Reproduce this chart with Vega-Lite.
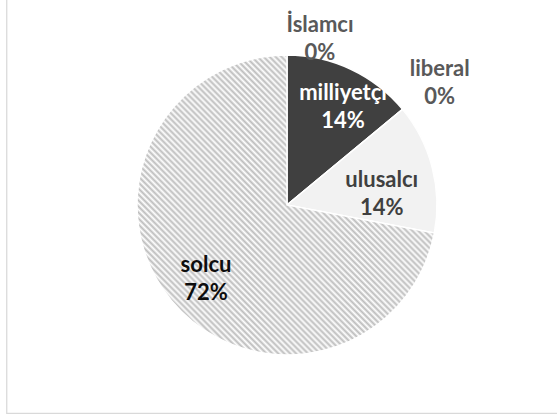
{
  "$schema": "https://vega.github.io/schema/vega-lite/v6.json",
  "width": 561,
  "height": 416,
  "autosize": {"type": "none"},
  "padding": {"left": 6.5, "top": -3, "right": -10.5, "bottom": 3},
  "background": "white",
  "config": {
    "view": {"stroke": "#d9d9d9", "strokeWidth": 1.25},
    "text": {"font": "Lato", "fontWeight": "bold", "fontSize": 22}
  },
  "data": {
    "values": [
      {"party": "İslamcı", "value": 0},
      {"party": "milliyetçi", "value": 0.14},
      {"party": "liberal", "value": 0},
      {"party": "ulusalcı", "value": 0.14},
      {"party": "solcu", "value": 0.72}
    ]
  },
  "transform": [{"stack": "value", "groupby": [], "as": ["v0", "v1"]}],
  "layer": [
    {
      "mark": {"type": "point", "opacity": 0},
      "encoding": {
        "x": {"field": "value", "type": "quantitative", "axis": null},
        "y": {"field": "value", "type": "quantitative", "axis": null}
      }
    },
    {
      "mark": {"type": "arc", "radius": 150, "stroke": "#ffffff", "strokeWidth": 1.5},
      "encoding": {
        "theta": {"field": "v0", "type": "quantitative", "scale": {"domain": [0, 1]}},
        "theta2": {"field": "v1"},
        "fill": {
          "condition": [
            {"test": "datum.party === 'solcu'", "value": {"gradient": "linear", "x1": 0, "y1": 1, "x2": 1, "y2": 0, "stops": [
              {"offset":0,"color":"#bdbdbd"},{"offset":0.005,"color":"#fff"},{"offset":0.01,"color":"#bdbdbd"},{"offset":0.015,"color":"#fff"},
              {"offset":0.02,"color":"#bdbdbd"},{"offset":0.025,"color":"#fff"},{"offset":0.03,"color":"#bdbdbd"},{"offset":0.035,"color":"#fff"},
              {"offset":0.04,"color":"#bdbdbd"},{"offset":0.045,"color":"#fff"},{"offset":0.05,"color":"#bdbdbd"},{"offset":0.055,"color":"#fff"},
              {"offset":0.06,"color":"#bdbdbd"},{"offset":0.065,"color":"#fff"},{"offset":0.07,"color":"#bdbdbd"},{"offset":0.075,"color":"#fff"},
              {"offset":0.08,"color":"#bdbdbd"},{"offset":0.085,"color":"#fff"},{"offset":0.09,"color":"#bdbdbd"},{"offset":0.095,"color":"#fff"},
              {"offset":0.1,"color":"#bdbdbd"},{"offset":0.105,"color":"#fff"},{"offset":0.11,"color":"#bdbdbd"},{"offset":0.115,"color":"#fff"},
              {"offset":0.12,"color":"#bdbdbd"},{"offset":0.125,"color":"#fff"},{"offset":0.13,"color":"#bdbdbd"},{"offset":0.135,"color":"#fff"},
              {"offset":0.14,"color":"#bdbdbd"},{"offset":0.145,"color":"#fff"},{"offset":0.15,"color":"#bdbdbd"},{"offset":0.155,"color":"#fff"},
              {"offset":0.16,"color":"#bdbdbd"},{"offset":0.165,"color":"#fff"},{"offset":0.17,"color":"#bdbdbd"},{"offset":0.175,"color":"#fff"},
              {"offset":0.18,"color":"#bdbdbd"},{"offset":0.185,"color":"#fff"},{"offset":0.19,"color":"#bdbdbd"},{"offset":0.195,"color":"#fff"},
              {"offset":0.2,"color":"#bdbdbd"},{"offset":0.205,"color":"#fff"},{"offset":0.21,"color":"#bdbdbd"},{"offset":0.215,"color":"#fff"},
              {"offset":0.22,"color":"#bdbdbd"},{"offset":0.225,"color":"#fff"},{"offset":0.23,"color":"#bdbdbd"},{"offset":0.235,"color":"#fff"},
              {"offset":0.24,"color":"#bdbdbd"},{"offset":0.245,"color":"#fff"},{"offset":0.25,"color":"#bdbdbd"},{"offset":0.255,"color":"#fff"},
              {"offset":0.26,"color":"#bdbdbd"},{"offset":0.265,"color":"#fff"},{"offset":0.27,"color":"#bdbdbd"},{"offset":0.275,"color":"#fff"},
              {"offset":0.28,"color":"#bdbdbd"},{"offset":0.285,"color":"#fff"},{"offset":0.29,"color":"#bdbdbd"},{"offset":0.295,"color":"#fff"},
              {"offset":0.3,"color":"#bdbdbd"},{"offset":0.305,"color":"#fff"},{"offset":0.31,"color":"#bdbdbd"},{"offset":0.315,"color":"#fff"},
              {"offset":0.32,"color":"#bdbdbd"},{"offset":0.325,"color":"#fff"},{"offset":0.33,"color":"#bdbdbd"},{"offset":0.335,"color":"#fff"},
              {"offset":0.34,"color":"#bdbdbd"},{"offset":0.345,"color":"#fff"},{"offset":0.35,"color":"#bdbdbd"},{"offset":0.355,"color":"#fff"},
              {"offset":0.36,"color":"#bdbdbd"},{"offset":0.365,"color":"#fff"},{"offset":0.37,"color":"#bdbdbd"},{"offset":0.375,"color":"#fff"},
              {"offset":0.38,"color":"#bdbdbd"},{"offset":0.385,"color":"#fff"},{"offset":0.39,"color":"#bdbdbd"},{"offset":0.395,"color":"#fff"},
              {"offset":0.4,"color":"#bdbdbd"},{"offset":0.405,"color":"#fff"},{"offset":0.41,"color":"#bdbdbd"},{"offset":0.415,"color":"#fff"},
              {"offset":0.42,"color":"#bdbdbd"},{"offset":0.425,"color":"#fff"},{"offset":0.43,"color":"#bdbdbd"},{"offset":0.435,"color":"#fff"},
              {"offset":0.44,"color":"#bdbdbd"},{"offset":0.445,"color":"#fff"},{"offset":0.45,"color":"#bdbdbd"},{"offset":0.455,"color":"#fff"},
              {"offset":0.46,"color":"#bdbdbd"},{"offset":0.465,"color":"#fff"},{"offset":0.47,"color":"#bdbdbd"},{"offset":0.475,"color":"#fff"},
              {"offset":0.48,"color":"#bdbdbd"},{"offset":0.485,"color":"#fff"},{"offset":0.49,"color":"#bdbdbd"},{"offset":0.495,"color":"#fff"},
              {"offset":0.5,"color":"#bdbdbd"},{"offset":0.505,"color":"#fff"},{"offset":0.51,"color":"#bdbdbd"},{"offset":0.515,"color":"#fff"},
              {"offset":0.52,"color":"#bdbdbd"},{"offset":0.525,"color":"#fff"},{"offset":0.53,"color":"#bdbdbd"},{"offset":0.535,"color":"#fff"},
              {"offset":0.54,"color":"#bdbdbd"},{"offset":0.545,"color":"#fff"},{"offset":0.55,"color":"#bdbdbd"},{"offset":0.555,"color":"#fff"},
              {"offset":0.56,"color":"#bdbdbd"},{"offset":0.565,"color":"#fff"},{"offset":0.57,"color":"#bdbdbd"},{"offset":0.575,"color":"#fff"},
              {"offset":0.58,"color":"#bdbdbd"},{"offset":0.585,"color":"#fff"},{"offset":0.59,"color":"#bdbdbd"},{"offset":0.595,"color":"#fff"},
              {"offset":0.6,"color":"#bdbdbd"},{"offset":0.605,"color":"#fff"},{"offset":0.61,"color":"#bdbdbd"},{"offset":0.615,"color":"#fff"},
              {"offset":0.62,"color":"#bdbdbd"},{"offset":0.625,"color":"#fff"},{"offset":0.63,"color":"#bdbdbd"},{"offset":0.635,"color":"#fff"},
              {"offset":0.64,"color":"#bdbdbd"},{"offset":0.645,"color":"#fff"},{"offset":0.65,"color":"#bdbdbd"},{"offset":0.655,"color":"#fff"},
              {"offset":0.66,"color":"#bdbdbd"},{"offset":0.665,"color":"#fff"},{"offset":0.67,"color":"#bdbdbd"},{"offset":0.675,"color":"#fff"},
              {"offset":0.68,"color":"#bdbdbd"},{"offset":0.685,"color":"#fff"},{"offset":0.69,"color":"#bdbdbd"},{"offset":0.695,"color":"#fff"},
              {"offset":0.7,"color":"#bdbdbd"},{"offset":0.705,"color":"#fff"},{"offset":0.71,"color":"#bdbdbd"},{"offset":0.715,"color":"#fff"},
              {"offset":0.72,"color":"#bdbdbd"},{"offset":0.725,"color":"#fff"},{"offset":0.73,"color":"#bdbdbd"},{"offset":0.735,"color":"#fff"},
              {"offset":0.74,"color":"#bdbdbd"},{"offset":0.745,"color":"#fff"},{"offset":0.75,"color":"#bdbdbd"},{"offset":0.755,"color":"#fff"},
              {"offset":0.76,"color":"#bdbdbd"},{"offset":0.765,"color":"#fff"},{"offset":0.77,"color":"#bdbdbd"},{"offset":0.775,"color":"#fff"},
              {"offset":0.78,"color":"#bdbdbd"},{"offset":0.785,"color":"#fff"},{"offset":0.79,"color":"#bdbdbd"},{"offset":0.795,"color":"#fff"},
              {"offset":0.8,"color":"#bdbdbd"},{"offset":0.805,"color":"#fff"},{"offset":0.81,"color":"#bdbdbd"},{"offset":0.815,"color":"#fff"},
              {"offset":0.82,"color":"#bdbdbd"},{"offset":0.825,"color":"#fff"},{"offset":0.83,"color":"#bdbdbd"},{"offset":0.835,"color":"#fff"},
              {"offset":0.84,"color":"#bdbdbd"},{"offset":0.845,"color":"#fff"},{"offset":0.85,"color":"#bdbdbd"},{"offset":0.855,"color":"#fff"},
              {"offset":0.86,"color":"#bdbdbd"},{"offset":0.865,"color":"#fff"},{"offset":0.87,"color":"#bdbdbd"},{"offset":0.875,"color":"#fff"},
              {"offset":0.88,"color":"#bdbdbd"},{"offset":0.885,"color":"#fff"},{"offset":0.89,"color":"#bdbdbd"},{"offset":0.895,"color":"#fff"},
              {"offset":0.9,"color":"#bdbdbd"},{"offset":0.905,"color":"#fff"},{"offset":0.91,"color":"#bdbdbd"},{"offset":0.915,"color":"#fff"},
              {"offset":0.92,"color":"#bdbdbd"},{"offset":0.925,"color":"#fff"},{"offset":0.93,"color":"#bdbdbd"},{"offset":0.935,"color":"#fff"},
              {"offset":0.94,"color":"#bdbdbd"},{"offset":0.945,"color":"#fff"},{"offset":0.95,"color":"#bdbdbd"},{"offset":0.955,"color":"#fff"},
              {"offset":0.96,"color":"#bdbdbd"},{"offset":0.965,"color":"#fff"},{"offset":0.97,"color":"#bdbdbd"},{"offset":0.975,"color":"#fff"},
              {"offset":0.98,"color":"#bdbdbd"},{"offset":0.985,"color":"#fff"},{"offset":0.99,"color":"#bdbdbd"},{"offset":0.995,"color":"#fff"},
              {"offset":1,"color":"#bdbdbd"}
            ]}},
            {"test": "datum.party === 'milliyetçi'", "value": "#404040"}
          ],
          "value": "#f2f2f2"
        }
      }
    },
    {
      "mark": {"type": "text", "radius": 159, "dx": 33, "dy": -14, "baseline": "alphabetic", "color": "#595959"},
      "encoding": {"theta": {"field": "v0", "type": "quantitative", "scale": {"domain": [0, 1]}}, "text": {"condition": {"test": "datum.party === 'İslamcı'", "field": "party", "type": "nominal"}, "value": ""}}
    },
    {
      "mark": {"type": "text", "radius": 159, "dx": 33, "dy": 14, "baseline": "alphabetic", "color": "#595959"},
      "encoding": {"theta": {"field": "v0", "type": "quantitative", "scale": {"domain": [0, 1]}}, "text": {"condition": {"test": "datum.party === 'İslamcı'", "field": "value", "type": "quantitative", "format": ".0%"}, "value": ""}}
    },
    {
      "mark": {"type": "text", "radius": 91.5, "dx": 56, "dy": -14, "baseline": "alphabetic", "color": "#ffffff"},
      "encoding": {"theta": {"field": "v0", "type": "quantitative", "scale": {"domain": [0, 1]}}, "text": {"condition": {"test": "datum.party === 'milliyetçi'", "field": "party", "type": "nominal"}, "value": ""}}
    },
    {
      "mark": {"type": "text", "radius": 91.5, "dx": 56, "dy": 14, "baseline": "alphabetic", "color": "#ffffff"},
      "encoding": {"theta": {"field": "v0", "type": "quantitative", "scale": {"domain": [0, 1]}}, "text": {"condition": {"test": "datum.party === 'milliyetçi'", "field": "value", "type": "quantitative", "format": ".0%"}, "value": ""}}
    },
    {
      "mark": {"type": "text", "radius": 180, "dx": 14, "dy": -14, "baseline": "alphabetic", "color": "#595959"},
      "encoding": {"theta": {"field": "v0", "type": "quantitative", "scale": {"domain": [0, 1]}}, "text": {"condition": {"test": "datum.party === 'liberal'", "field": "party", "type": "nominal"}, "value": ""}}
    },
    {
      "mark": {"type": "text", "radius": 180, "dx": 14, "dy": 14, "baseline": "alphabetic", "color": "#595959"},
      "encoding": {"theta": {"field": "v0", "type": "quantitative", "scale": {"domain": [0, 1]}}, "text": {"condition": {"test": "datum.party === 'liberal'", "field": "value", "type": "quantitative", "format": ".0%"}, "value": ""}}
    },
    {
      "mark": {"type": "text", "radius": 123, "dx": 0, "dy": 60, "baseline": "alphabetic", "color": "#404040"},
      "encoding": {"theta": {"field": "v0", "type": "quantitative", "scale": {"domain": [0, 1]}}, "text": {"condition": {"test": "datum.party === 'ulusalcı'", "field": "party", "type": "nominal"}, "value": ""}}
    },
    {
      "mark": {"type": "text", "radius": 123, "dx": 0, "dy": 88, "baseline": "alphabetic", "color": "#404040"},
      "encoding": {"theta": {"field": "v0", "type": "quantitative", "scale": {"domain": [0, 1]}}, "text": {"condition": {"test": "datum.party === 'ulusalcı'", "field": "value", "type": "quantitative", "format": ".0%"}, "value": ""}}
    },
    {
      "mark": {"type": "text", "radius": 0, "dx": -81, "dy": 66.5, "baseline": "alphabetic", "color": "#0d0d0d"},
      "encoding": {"theta": {"field": "v0", "type": "quantitative", "scale": {"domain": [0, 1]}}, "text": {"condition": {"test": "datum.party === 'solcu'", "field": "party", "type": "nominal"}, "value": ""}}
    },
    {
      "mark": {"type": "text", "radius": 0, "dx": -81, "dy": 94.5, "baseline": "alphabetic", "color": "#0d0d0d"},
      "encoding": {"theta": {"field": "v0", "type": "quantitative", "scale": {"domain": [0, 1]}}, "text": {"condition": {"test": "datum.party === 'solcu'", "field": "value", "type": "quantitative", "format": ".0%"}, "value": ""}}
    }
  ]
}
